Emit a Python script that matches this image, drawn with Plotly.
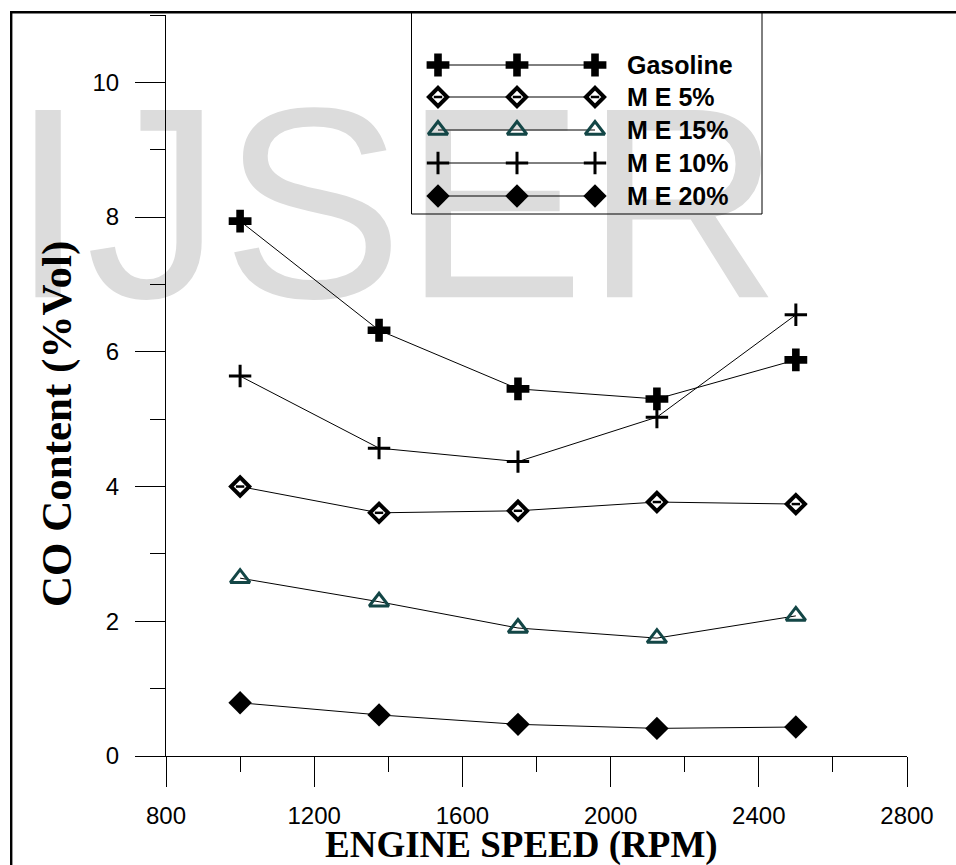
import plotly.graph_objects as go

# Engine speed (RPM) and CO content (% vol) for each fuel blend
rpm = [1000, 1375, 1750, 2125, 2500]
gasoline = [7.94, 6.32, 5.45, 5.30, 5.88]
me5 = [4.00, 3.61, 3.64, 3.77, 3.74]
me15 = [2.64, 2.29, 1.90, 1.75, 2.08]
me10 = [5.64, 4.57, 4.37, 5.03, 6.55]
me20 = [0.79, 0.61, 0.47, 0.41, 0.43]

series_names = ["Gasoline", "M E 5%", "M E 15%", "M E 10%", "M E 20%"]
x_ticks = [800, 1200, 1600, 2000, 2400, 2800]
y_ticks = [0, 2, 4, 6, 8, 10]

TEAL = "#134646"
W, H = 956, 865
L, R, T, B = 166, 49, 15, 109
PW, PH = W - L - R, H - T - B


def px_to_paper_x(px):
    return (px - L) / PW


def px_to_paper_y(py):
    return (H - B - py) / PH


styles = {
    "Gasoline": dict(symbol="cross", size=19, color="black", line=dict(width=0)),
    "M E 5%": dict(symbol="diamond", size=14, color="white",
                   line=dict(color="black", width=4)),
    "M E 15%": dict(symbol="triangle-up-open", size=17, color=TEAL,
                    line=dict(color=TEAL, width=3)),
    "M E 10%": dict(symbol="cross-thin-open", size=16, color="black",
                    line=dict(color="black", width=3)),
    "M E 20%": dict(symbol="diamond", size=18, color="black", line=dict(width=0)),
}
dash_style = dict(symbol="line-ew-open", size=6, color="black",
                  line=dict(color="black", width=2.5))

values = {
    "Gasoline": gasoline,
    "M E 5%": me5,
    "M E 15%": me15,
    "M E 10%": me10,
    "M E 20%": me20,
}

fig = go.Figure()

# Watermark text behind the data
fig.add_trace(go.Scatter(
    x=[1420], y=[7.82], mode="text", text=["IJSER"],
    textfont=dict(size=272, color="#dcdcdc", family="Arial, Liberation Sans"),
    textposition="middle center", cliponaxis=False,
    hoverinfo="skip", showlegend=False,
))

for name in series_names:
    fig.add_trace(go.Scatter(
        x=rpm, y=values[name], mode="lines+markers", name=name,
        line=dict(color="black", width=1),
        marker=styles[name], cliponaxis=False, showlegend=False,
    ))
    if name == "M E 5%":
        fig.add_trace(go.Scatter(
            x=rpm, y=values[name], mode="markers", marker=dash_style,
            cliponaxis=False, showlegend=False, hoverinfo="skip",
        ))

# Hand-built legend: three sample markers on a line per row (pixel-coordinate overlay axes)
leg_rows_y = [65, 97, 130, 163, 196]
leg_marker_x = [438, 517, 595]
for name, ry in zip(series_names, leg_rows_y):
    fig.add_trace(go.Scatter(
        x=leg_marker_x, y=[ry] * 3, mode="lines+markers",
        line=dict(color="black", width=1), marker=styles[name],
        xaxis="x2", yaxis="y2", cliponaxis=False, showlegend=False, hoverinfo="skip",
    ))
    if name == "M E 5%":
        fig.add_trace(go.Scatter(
            x=leg_marker_x, y=[ry] * 3, mode="markers", marker=dash_style,
            xaxis="x2", yaxis="y2", cliponaxis=False, showlegend=False, hoverinfo="skip",
        ))
    fig.add_annotation(
        x=px_to_paper_x(625), y=px_to_paper_y(ry), xref="paper", yref="paper",
        text=f"<b>{name}</b>", showarrow=False, xanchor="left", yanchor="middle",
        font=dict(size=25, color="black", family="Arial, Liberation Sans"),
    )

# Legend box
fig.add_shape(type="rect", xref="paper", yref="paper",
              x0=px_to_paper_x(411.5), x1=px_to_paper_x(762),
              y0=px_to_paper_y(214), y1=px_to_paper_y(12.2),
              line=dict(color="black", width=1), fillcolor="rgba(0,0,0,0)")

# Outer frame: top and left edges (the rest lies beyond the page)
frame = dict(color="black", width=2.4)
fig.add_shape(type="line", xref="paper", yref="paper",
              x0=px_to_paper_x(10), x1=px_to_paper_x(W),
              y0=px_to_paper_y(12.2), y1=px_to_paper_y(12.2), line=frame)
fig.add_shape(type="line", xref="paper", yref="paper",
              x0=px_to_paper_x(11.2), x1=px_to_paper_x(11.2),
              y0=px_to_paper_y(11), y1=px_to_paper_y(H), line=frame)

# Axis titles
fig.add_annotation(
    x=px_to_paper_x(521.5), y=px_to_paper_y(845), xref="paper", yref="paper",
    text="<b>ENGINE SPEED (RPM)</b>", showarrow=False,
    xanchor="center", yanchor="middle",
    font=dict(size=37, color="black", family="Times New Roman, Liberation Serif"),
)
fig.add_annotation(
    x=px_to_paper_x(57), y=px_to_paper_y(424), xref="paper", yref="paper",
    text="<b>CO Content (%Vol)</b>", showarrow=False, textangle=-90,
    xanchor="center", yanchor="middle",
    font=dict(size=43, color="black", family="Times New Roman, Liberation Serif"),
)

tick_font = dict(size=24, color="black", family="Arial, Liberation Sans")
fig.update_layout(
    width=W, height=H,
    margin=dict(l=L, r=R, t=T, b=B, pad=0),
    paper_bgcolor="white", plot_bgcolor="white",
    showlegend=False,
    xaxis=dict(
        range=[800, 2800], tickvals=x_ticks, ticktext=[str(v) for v in x_ticks],
        showgrid=False, zeroline=False, showline=True, linecolor="black", linewidth=1,
        ticks="outside", ticklen=30, tickwidth=1, tickcolor="black",
        tickfont=tick_font, ticklabelstandoff=8,
        minor=dict(dtick=200, tick0=800, ticks="outside", ticklen=15,
                   tickwidth=1, tickcolor="black", showgrid=False),
    ),
    yaxis=dict(
        range=[0, 11], tickvals=y_ticks, ticktext=[str(v) for v in y_ticks],
        showgrid=False, zeroline=False, showline=True, linecolor="black", linewidth=1,
        ticks="outside", ticklen=30, tickwidth=1, tickcolor="black",
        tickfont=tick_font, ticklabelstandoff=11,
        minor=dict(dtick=1, tick0=0, ticks="outside", ticklen=15,
                   tickwidth=1, tickcolor="black", showgrid=False),
    ),
    xaxis2=dict(range=[L, L + PW], overlaying="x", visible=False, fixedrange=True),
    yaxis2=dict(range=[H - B, T], overlaying="y", visible=False, fixedrange=True),
)

fig.write_html("out.html")
